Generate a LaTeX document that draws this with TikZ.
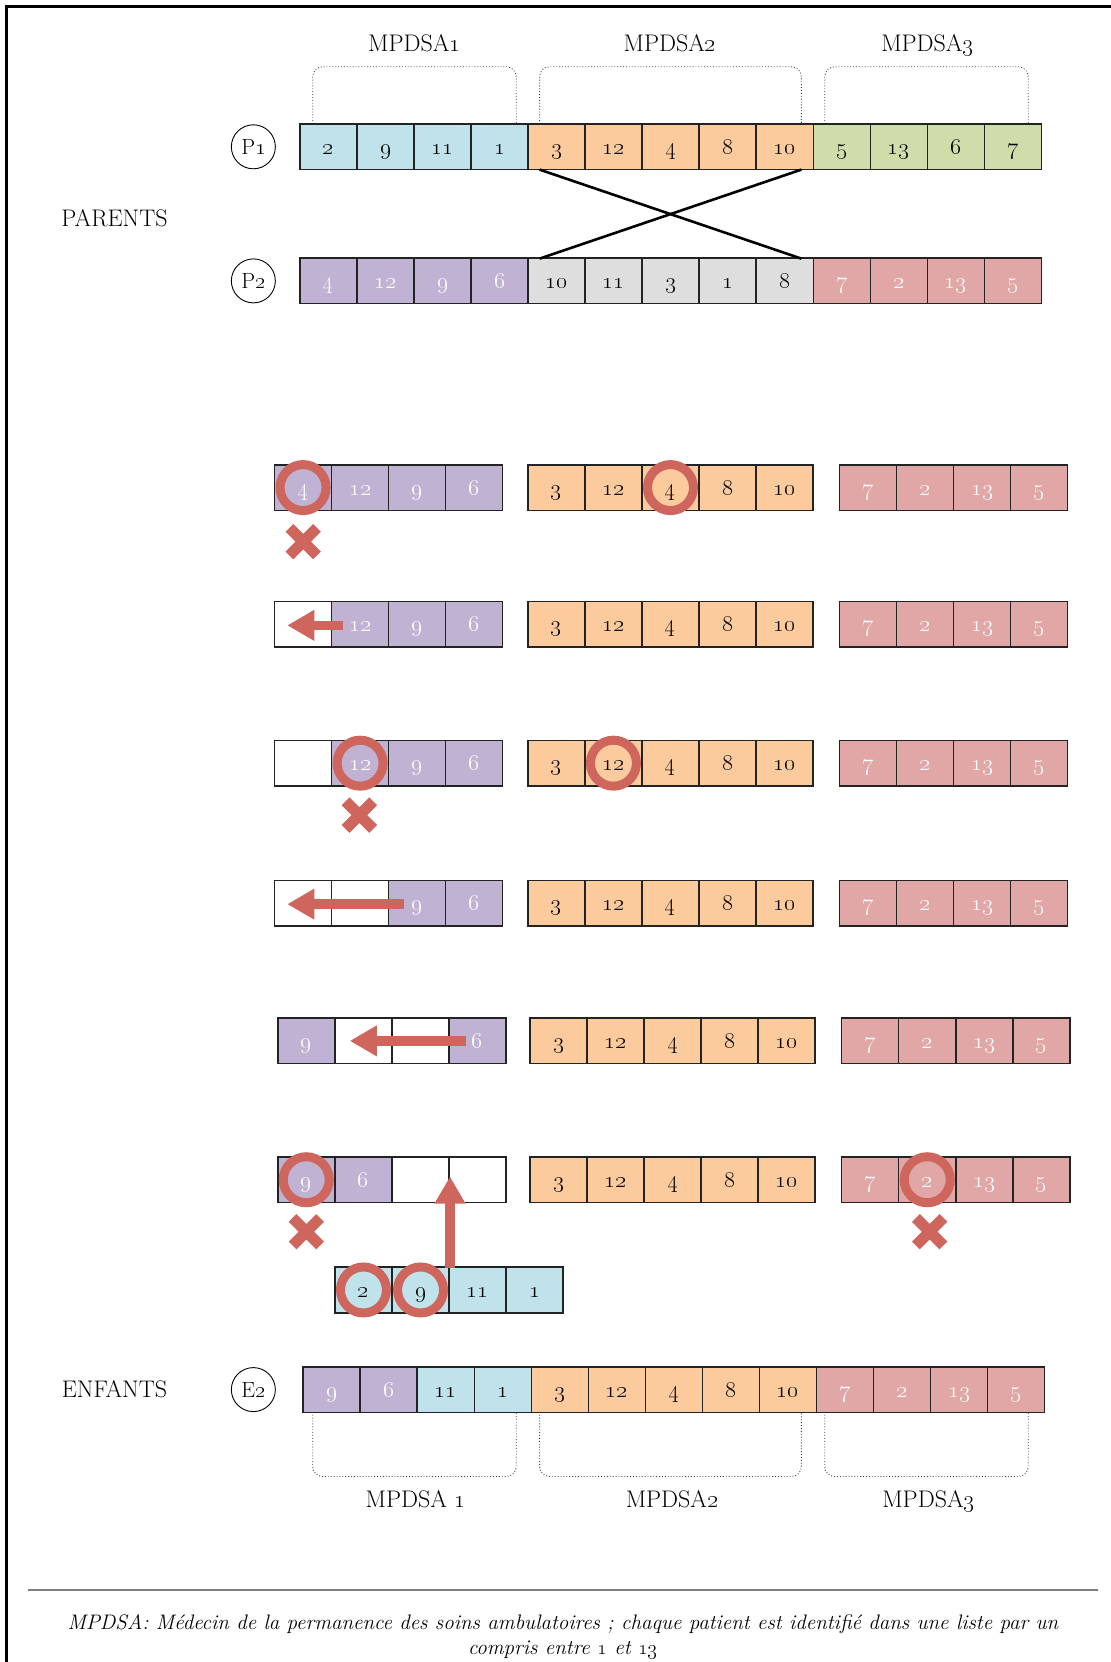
\documentclass[tikz,border=0pt]{standalone}
\usepackage{fix-cm}
\usetikzlibrary{arrows.meta}
\definecolor{cblue}{RGB}{192,227,235}
\definecolor{corange}{RGB}{251,203,158}
\definecolor{cgreen}{RGB}{206,221,170}
\definecolor{cpurple}{RGB}{191,178,211}
\definecolor{cgray}{RGB}{222,222,222}
\definecolor{cpink}{RGB}{225,166,166}
\definecolor{cred}{RGB}{206,102,94}
\definecolor{cedge}{RGB}{35,35,35}
\newcommand{\osn}[1]{\oldstylenums{#1}}
\newcommand{\cellrow}[4]{%
  \foreach \v/\s [count=\i] in {#4} {%
    \node[cell,\s] (#1-\i) at ({#2+(\i-0.5)*53.8},#3) {\osn{\v}};
  }}
\begin{document}
\begin{tikzpicture}[x=1.0601pt,y=-1.06pt,
  cell/.style={draw=cedge,line width=1.5pt,rectangle,minimum width=57pt,minimum height=45.6pt,inner sep=0pt,outer sep=0pt,font=\fontsize{23.5}{23.5}\selectfont,text height=17pt,text depth=2pt},
  sBl/.style={fill=cblue,text=black},
  sOr/.style={fill=corange,text=black},
  sGr/.style={fill=cgreen,text=black},
  sGy/.style={fill=cgray,text=black},
  sPu/.style={fill=cpurple,text=white},
  sPk/.style={fill=cpink,text=white},
  sWh/.style={fill=white},
  pcirc/.style={draw,circle,line width=0.9pt,minimum size=44pt,inner sep=0pt,font=\fontsize{22}{22}\selectfont},
  hl/.style={draw=cred,circle,line width=9pt,minimum size=46pt,inner sep=0pt},
  rarrow/.style={color=cred,line width=9.5pt,-{Triangle[width=29pt,length=27pt]}},
  bracket/.style={draw=black!75,dotted,line width=0.9pt,rounded corners=10pt},
  lab/.style={font=\fontsize{24}{24}\selectfont,anchor=base,inner sep=0pt},
  xcross/.pic={\draw[cred,line width=11pt] (-13,-13) -- (13,13) (-13,13) -- (13,-13);}
]
\useasboundingbox (0,0) rectangle (1048,1568);
% frame
\draw[line width=2.5pt] (6,1570) -- (6,6) -- (1050,6);

% labels top
\node[lab] (lt1) at (391,49) {MPDSA\osn{1}};
\node[lab] (lt2) at (632,49) {MPDSA\osn{2}};
\node[lab] (lt3) at (875,49) {MPDSA\osn{3}};
\draw[bracket] (295,117) -- (295,63) -- (487,63) -- (487,117);
\draw[bracket] (509,117) -- (509,63) -- (756,63) -- (756,117);
\draw[bracket] (778,117) -- (778,63) -- (970,63) -- (970,117);

\node[lab] (parents) at (108,214) {PARENTS};
\node[pcirc] (cp1) at (239,138.5) {P\osn{1}};
\node[pcirc] (cp2) at (239,265) {P\osn{2}};

\cellrow{p1}{283}{138.5}{2/sBl,9/sBl,11/sBl,1/sBl,3/sOr,12/sOr,4/sOr,8/sOr,10/sOr,5/sGr,13/sGr,6/sGr,7/sGr}
\cellrow{p2}{283}{265}{4/sPu,12/sPu,9/sPu,6/sPu,10/sGy,11/sGy,3/sGy,1/sGy,8/sGy,7/sPk,2/sPk,13/sPk,5/sPk}

\coordinate (xa) at (509,160);
\coordinate (xb) at (756,160);
\coordinate (xc) at (509,244);
\coordinate (xd) at (756,244);
\draw[line width=2.6pt] (xa) -- (xd);
\draw[line width=2.6pt] (xb) -- (xc);

% row A
\cellrow{ral}{259}{460}{4/sPu,12/sPu,9/sPu,6/sPu}
\cellrow{ram}{498}{460}{3/sOr,12/sOr,4/sOr,8/sOr,10/sOr}
\cellrow{rar}{792}{460}{7/sPk,2/sPk,13/sPk,5/sPk}
\node[hl] (ha1) at (ral-1) {};
\node[hl] (ha2) at (ram-3) {};
\pic at (286,511) {xcross};

% row B
\cellrow{rbl}{259}{589}{/sWh,12/sPu,9/sPu,6/sPu}
\cellrow{rbm}{498}{589}{3/sOr,12/sOr,4/sOr,8/sOr,10/sOr}
\cellrow{rbr}{792}{589}{7/sPk,2/sPk,13/sPk,5/sPk}
\coordinate (ab1) at (324,590);
\coordinate (ab2) at (271,590);
\draw[rarrow] (ab1) -- (ab2);

% row C
\cellrow{rcl}{259}{720}{/sWh,12/sPu,9/sPu,6/sPu}
\cellrow{rcm}{498}{720}{3/sOr,12/sOr,4/sOr,8/sOr,10/sOr}
\cellrow{rcr}{792}{720}{7/sPk,2/sPk,13/sPk,5/sPk}
\node[hl] (hc1) at (rcl-2) {};
\node[hl] (hc2) at (rcm-2) {};
\pic at (339,769) {xcross};

% row D
\cellrow{rdl}{259}{852}{/sWh,/sWh,9/sPu,6/sPu}
\cellrow{rdm}{498}{852}{3/sOr,12/sOr,4/sOr,8/sOr,10/sOr}
\cellrow{rdr}{792}{852}{7/sPk,2/sPk,13/sPk,5/sPk}
\coordinate (ad1) at (381,853);
\coordinate (ad2) at (271,853);
\draw[rarrow] (ad1) -- (ad2);

% row E
\cellrow{rel}{262}{982}{9/sPu,/sWh,/sWh,6/sPu}
\cellrow{rem}{500}{982}{3/sOr,12/sOr,4/sOr,8/sOr,10/sOr}
\cellrow{rer}{794}{982}{7/sPk,2/sPk,13/sPk,5/sPk}
\coordinate (ae1) at (440,982);
\coordinate (ae2) at (330,982);
\draw[rarrow] (ae1) -- (ae2);

% row F
\cellrow{rfl}{262}{1113}{9/sPu,6/sPu,/sWh,/sWh}
\cellrow{rfm}{500}{1113}{3/sOr,12/sOr,4/sOr,8/sOr,10/sOr}
\cellrow{rfr}{794}{1113}{7/sPk,2/sPk,13/sPk,5/sPk}
\cellrow{rg}{316}{1217}{2/sBl,9/sBl,11/sBl,1/sBl}
\coordinate (au1) at (424.5,1196);
\coordinate (au2) at (424.5,1110);
\draw[rarrow] (au1) -- (au2);
\node[hl] (hf1) at (rfl-1) {};
\node[hl] (hf2) at (rfr-2) {};
\node[hl] (hg1) at (rg-1) {};
\node[hl] (hg2) at (rg-2) {};
\pic at (289,1162) {xcross};
\pic at (877,1162) {xcross};

% children
\node[lab] (enfants) at (108,1318) {ENFANTS};
\node[pcirc] (ce2) at (239,1311) {E\osn{2}};
\cellrow{e2}{286}{1311}{9/sPu,6/sPu,11/sBl,1/sBl,3/sOr,12/sOr,4/sOr,8/sOr,10/sOr,7/sPk,2/sPk,13/sPk,5/sPk}
\draw[bracket] (295,1332) -- (295,1393) -- (487,1393) -- (487,1332);
\draw[bracket] (509,1332) -- (509,1393) -- (756,1393) -- (756,1332);
\draw[bracket] (778,1332) -- (778,1393) -- (970,1393) -- (970,1332);
\node[lab] (lb1) at (392,1422) {MPDSA \osn{1}};
\node[lab] (lb2) at (634,1422) {MPDSA\osn{2}};
\node[lab] (lb3) at (876,1422) {MPDSA\osn{3}};

% caption
\draw[line width=2.4pt,draw=black!50] (26,1500) -- (1036,1500);
\node[anchor=base,inner sep=0pt,font=\fontsize{21}{21}\selectfont\itshape] (cap1) at (531,1537) {MPDSA: Médecin de la permanence des soins ambulatoires ; chaque patient est identifié dans une liste par un};
\node[anchor=base,inner sep=0pt,font=\fontsize{21}{21}\selectfont\itshape] (cap2) at (531,1561) {compris entre \osn{1} et \osn{13}};
\end{tikzpicture}
\end{document}
